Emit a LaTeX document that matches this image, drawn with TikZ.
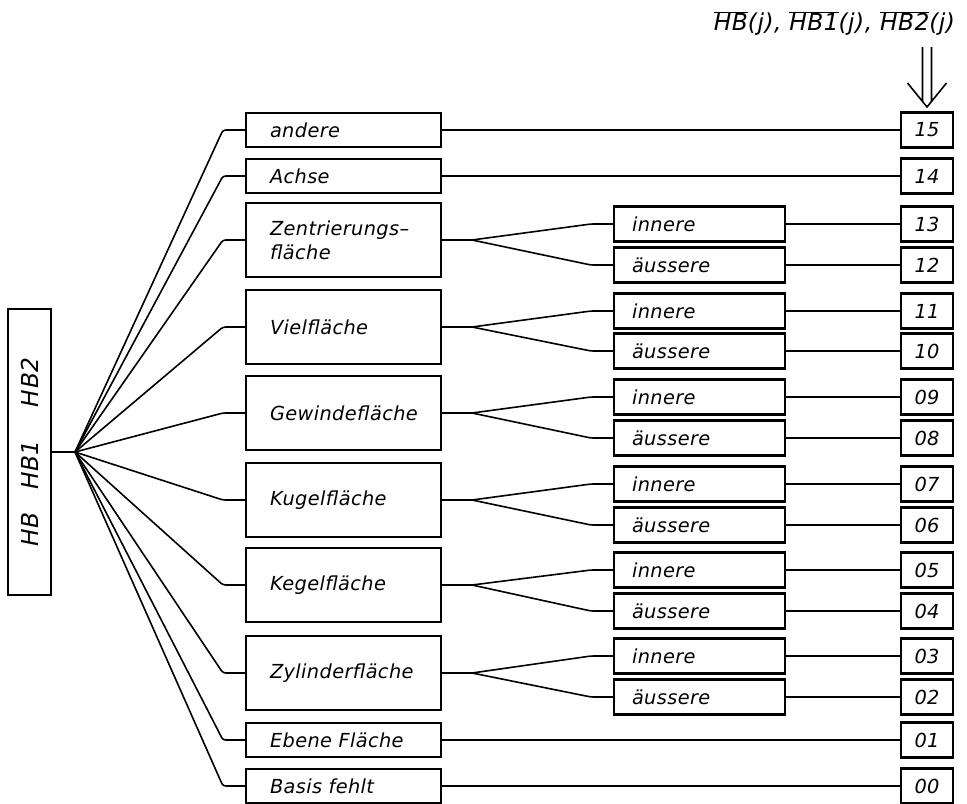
\documentclass[tikz,border=0pt]{standalone}
\usepackage{fontspec}
\newfontfamily\lbl{DejaVu Sans}[LetterSpace=2]
\begin{document}
\begin{tikzpicture}[x=0.75pt,y=-0.75pt,
  cn/.style={line width=1.2pt, rounded corners=2pt},
  txt/.style={font=\lbl\itshape\fontsize{14.5}{18}\selectfont},
  mainbox/.style={draw, line width=1.6pt, txt, minimum width=146.25pt, minimum height=25.5pt,
    inner xsep=18pt, inner ysep=0pt, text width=110.25pt, align=left},
  tallbox/.style={mainbox, minimum height=55.5pt},
  subbox/.style={draw, line width=1.6pt, txt, minimum width=128.25pt, minimum height=26.25pt,
    inner xsep=13.5pt, inner ysep=0pt, text width=101.25pt, align=left},
  numbox/.style={draw, line width=1.6pt, txt, minimum width=39pt, minimum height=26.25pt, inner sep=0pt}]
\useasboundingbox (0,0) rectangle (967,803);

% left box
\node[draw, line width=1.6pt, rotate=90, minimum width=214.5pt, minimum height=32.25pt, inner sep=0pt,
  font=\lbl\itshape\fontsize{17.5}{20}\selectfont] (hb) at (29.5,452) {HB\hspace{17pt}HB1\hspace{25pt}HB2};

% main boxes
\node[mainbox] (m15) at (343.5,130) {andere};
\node[mainbox] (m14) at (343.5,176) {Achse};
\node[tallbox] (mz)  at (343.5,240) {Zentrierungs–\\fläche};
\node[tallbox] (mv)  at (343.5,327) {Vielfläche};
\node[tallbox] (mg)  at (343.5,413) {Gewindefläche};
\node[tallbox] (mk)  at (343.5,500) {Kugelfläche};
\node[tallbox] (mke) at (343.5,585) {Kegelfläche};
\node[tallbox] (mzy) at (343.5,673) {Zylinderfläche};
\node[mainbox] (m01) at (343.5,740) {Ebene Fläche};
\node[mainbox] (m00) at (343.5,786) {Basis fehlt};

% sub boxes
\node[subbox] (s13) at (699.5,224) {innere};
\node[subbox] (s12) at (699.5,265) {äussere};
\node[subbox] (s11) at (699.5,311) {innere};
\node[subbox] (s10) at (699.5,351) {äussere};
\node[subbox] (s09) at (699.5,397) {innere};
\node[subbox] (s08) at (699.5,438) {äussere};
\node[subbox] (s07) at (699.5,484) {innere};
\node[subbox] (s06) at (699.5,525) {äussere};
\node[subbox] (s05) at (699.5,570) {innere};
\node[subbox] (s04) at (699.5,611) {äussere};
\node[subbox] (s03) at (699.5,656) {innere};
\node[subbox] (s02) at (699.5,697) {äussere};

% number boxes
\foreach \n/\y in {15/130,14/176,13/224,12/265,11/311,10/351,09/397,08/438,07/484,06/525,05/570,04/611,03/656,02/697,01/740,00/786}
  \node[numbox] (n\n) at (927,\y) {\n};

% title and double arrow
\node[font=\lbl\itshape\fontsize{17.5}{20}\selectfont, anchor=base, inner sep=0pt] (title) at (834.5,31)
  {$\overline{\mbox{HB}}$(j), $\overline{\mbox{HB1}}$(j), $\overline{\mbox{HB2}}$(j)};
\draw[line width=1.2pt, line join=miter] (922.5,47) -- (922.5,101.5) (931.5,47) -- (931.5,101.5)
  (907.5,83) -- (927,107) -- (946.5,83);

% fan from left box
\coordinate (J) at (75,452);
\draw[cn] (hb.south) -- (J);
\foreach \b in {m15,m14,mz,mv,mg,mk,mke,mzy,m01,m00}
  \draw[cn] (J) -- ([xshift=-16.5pt]\b.west) -- (\b.west);

% sub fans
\foreach \b/\u/\l in {mz/s13/s12, mv/s11/s10, mg/s09/s08, mk/s07/s06, mke/s05/s04, mzy/s03/s02}{
  \draw[cn] (\b.east) -- ++(22.5pt,0) coordinate (j\b);
  \draw[cn] (j\b) -- ([xshift=-16.5pt]\u.west) -- (\u.west);
  \draw[cn] (j\b) -- ([xshift=-16.5pt]\l.west) -- (\l.west);
}

% to number boxes
\foreach \a/\n in {m15/15, m14/14, m01/01, m00/00, s13/13, s12/12, s11/11, s10/10, s09/09, s08/08, s07/07, s06/06, s05/05, s04/04, s03/03, s02/02}
  \draw[cn] (\a.east) -- (n\n.west);
\end{tikzpicture}
\end{document}
